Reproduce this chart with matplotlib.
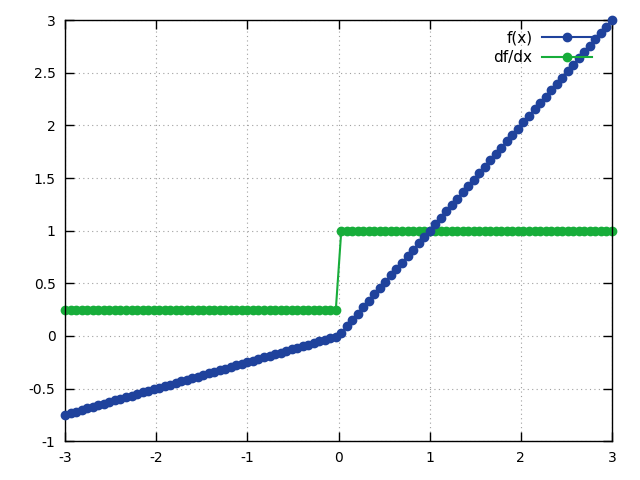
import matplotlib
matplotlib.use("Agg")
import matplotlib.pyplot as plt
from matplotlib.ticker import FuncFormatter

# sampled points (100 samples on [-3, 3])
x_neg = [-3.000, -2.939, -2.879, -2.818, -2.758, -2.697, -2.636, -2.576, -2.515, -2.455,
         -2.394, -2.333, -2.273, -2.212, -2.152, -2.091, -2.030, -1.970, -1.909, -1.848,
         -1.788, -1.727, -1.667, -1.606, -1.545, -1.485, -1.424, -1.364, -1.303, -1.242,
         -1.182, -1.121, -1.061, -1.000, -0.939, -0.879, -0.818, -0.758, -0.697, -0.636,
         -0.576, -0.515, -0.455, -0.394, -0.333, -0.273, -0.212, -0.152, -0.091, -0.030]
x_pos = [0.030, 0.091, 0.152, 0.212, 0.273, 0.333, 0.394, 0.455, 0.515, 0.576,
         0.636, 0.697, 0.758, 0.818, 0.879, 0.939, 1.000, 1.061, 1.121, 1.182,
         1.242, 1.303, 1.364, 1.424, 1.485, 1.545, 1.606, 1.667, 1.727, 1.788,
         1.848, 1.909, 1.970, 2.030, 2.091, 2.152, 2.212, 2.273, 2.333, 2.394,
         2.455, 2.515, 2.576, 2.636, 2.697, 2.758, 2.818, 2.879, 2.939, 3.000]
x = x_neg + x_pos

f_neg = [-0.750, -0.735, -0.720, -0.705, -0.689, -0.674, -0.659, -0.644, -0.629, -0.614,
         -0.598, -0.583, -0.568, -0.553, -0.538, -0.523, -0.508, -0.492, -0.477, -0.462,
         -0.447, -0.432, -0.417, -0.402, -0.386, -0.371, -0.356, -0.341, -0.326, -0.311,
         -0.295, -0.280, -0.265, -0.250, -0.235, -0.220, -0.205, -0.189, -0.174, -0.159,
         -0.144, -0.129, -0.114, -0.098, -0.083, -0.068, -0.053, -0.038, -0.023, -0.008]
f_pos = [0.030, 0.091, 0.152, 0.212, 0.273, 0.333, 0.394, 0.455, 0.515, 0.576,
         0.636, 0.697, 0.758, 0.818, 0.879, 0.939, 1.000, 1.061, 1.121, 1.182,
         1.242, 1.303, 1.364, 1.424, 1.485, 1.545, 1.606, 1.667, 1.727, 1.788,
         1.848, 1.909, 1.970, 2.030, 2.091, 2.152, 2.212, 2.273, 2.333, 2.394,
         2.455, 2.515, 2.576, 2.636, 2.697, 2.758, 2.818, 2.879, 2.939, 3.000]
fx = f_neg + f_pos

df_neg = [0.25] * 50
df_pos = [1.0] * 50
dfdx = df_neg + df_pos

x_ticks = [-3, -2, -1, 0, 1, 2, 3]
y_ticks = [-1, -0.5, 0, 0.5, 1, 1.5, 2, 2.5, 3]

blue = "#1f429c"
green = "#17ad3a"

plt.rcParams['font.family'] = ['DejaVu Sans']
fig = plt.figure(figsize=(6.4, 4.8), dpi=100)
ax = fig.add_axes([0.102, 0.081, 0.854, 0.877])

ax.plot(x, fx, color=blue, linewidth=1.5, marker='o', markersize=6, label='f(x)', clip_on=False, zorder=3)
ax.plot(x, dfdx, color=green, linewidth=1.5, marker='o', markersize=6, label='df/dx', clip_on=False, zorder=2)

ax.set_xlim(-3, 3)
ax.set_ylim(-1, 3)
ax.set_xticks(x_ticks)
ax.set_yticks(y_ticks)
fmt = FuncFormatter(lambda v, p: '%g' % v)
ax.xaxis.set_major_formatter(fmt)
ax.yaxis.set_major_formatter(fmt)
ax.tick_params(direction='in', length=6.5, width=1, top=True, right=True,
               labelsize=10, pad=7)
ax.grid(True, color='#a0a0a0', linestyle=(0, (1, 3)), linewidth=0.8)
for s in ax.spines.values():
    s.set_linewidth(1)

ax.legend(loc='upper right', frameon=False, markerfirst=False, handlelength=3.3,
          fontsize=11, borderaxespad=0, borderpad=0, bbox_to_anchor=(0.925, 0.937),
          bbox_transform=fig.transFigure, labelspacing=0.32, handletextpad=0.6)

fig.savefig('out.png', dpi=100)
